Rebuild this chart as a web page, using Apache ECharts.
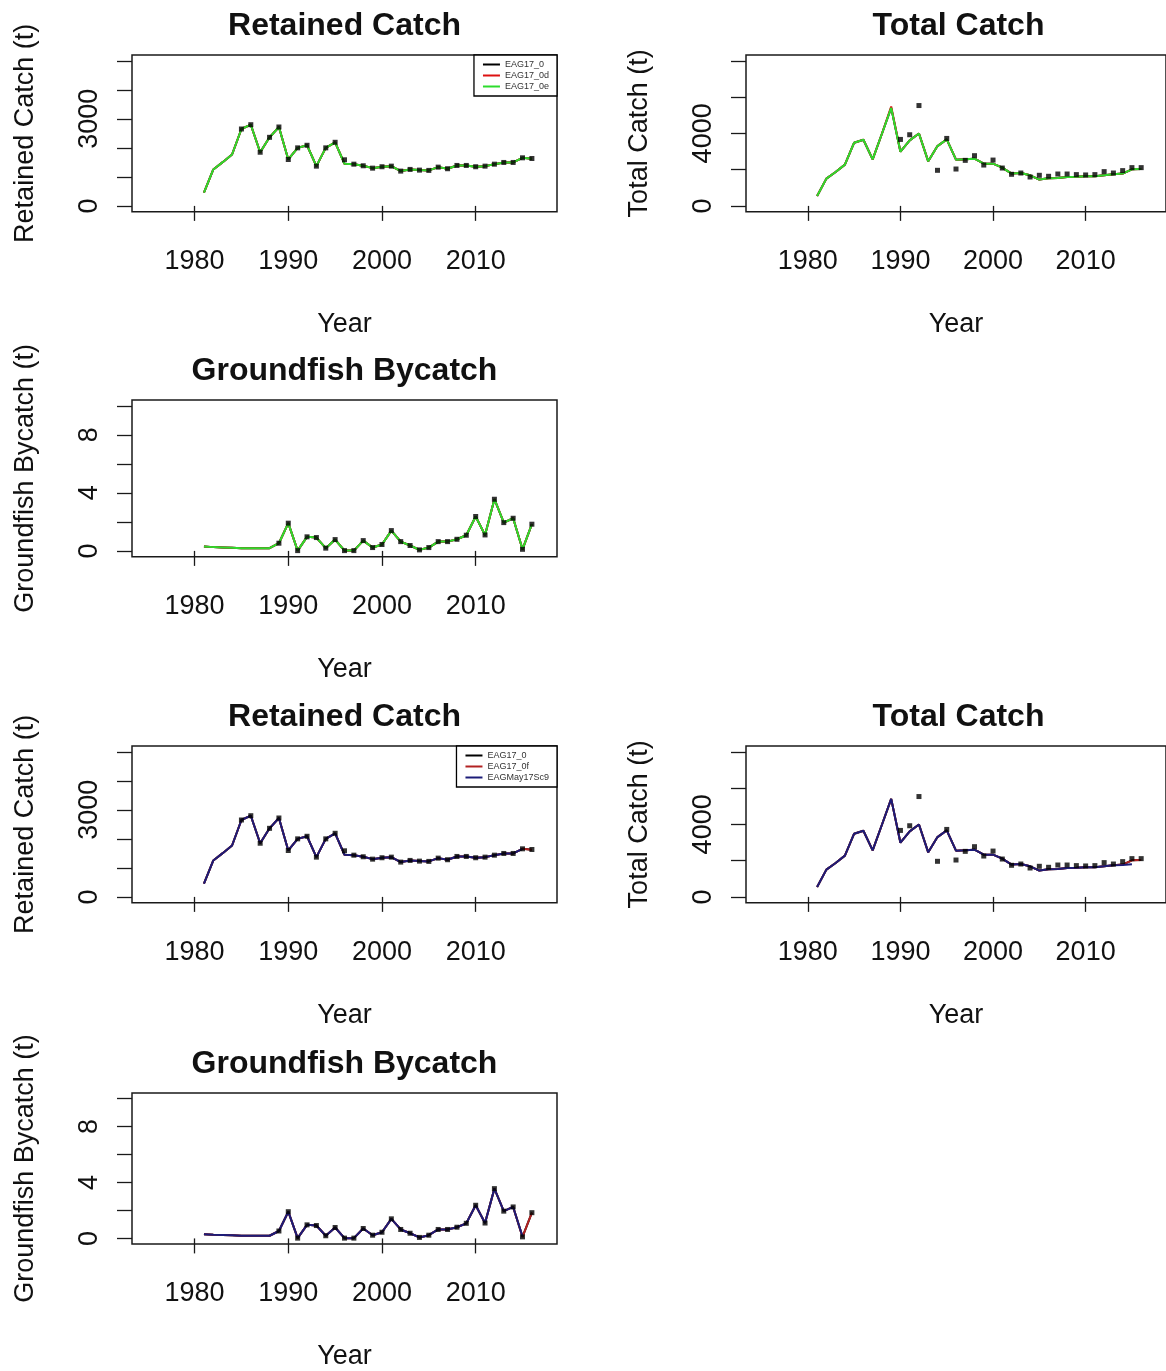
<!DOCTYPE html>
<html>
<head>
<meta charset="utf-8">
<script src="https://cdn.jsdelivr.net/npm/echarts@6/dist/echarts.min.js"></script>
<style>
html,body{margin:0;padding:0;background:#ffffff;}
#chart{width:1166px;height:1371px;}
</style>
</head>
<body>
<div id="chart"></div>
<script>
// ---------------- DATA ----------------
const years = [1981,1982,1983,1984,1985,1986,1987,1988,1989,1990,1991,1992,1993,1994,1995,1996,1997,1998,
               1999,2000,2001,2002,2003,2004,2005,2006,2007,2008,2009,2010,2011,2012,2013,2014,2015,2016];

// model fits (t)
const retainedFit = [459,1257,1507,1771,2650,2798,1849,2363,2719,1599,2000,2089,1370,2000,2192,1452,1438,1383,
                     1301,1349,1370,1199,1257,1233,1223,1336,1281,1394,1394,1349,1370,1438,1497,1497,1657,1623];
const retainedObs = [null,null,null,null,2650,2798,1849,2363,2719,1599,2000,2089,1370,2000,2192,1589,1438,1383,
                     1301,1349,1370,1199,1257,1233,1223,1336,1281,1394,1394,1349,1370,1438,1497,1497,1657,1634];
const retainedSc9 = [459,1257,1507,1771,2650,2798,1849,2363,2719,1599,2000,2089,1370,2000,2192,1452,1438,1383,
                     1301,1349,1370,1199,1257,1233,1223,1336,1281,1394,1394,1349,1370,1438,1497,1497,1657];

const totalFit = [549,1505,1868,2275,3484,3648,2566,3978,5407,2989,3610,3995,2456,3297,3665,2549,2566,2604,
                  2330,2330,2110,1780,1813,1687,1451,1522,1540,1593,1612,1632,1632,1687,1742,1780,2016,2033];
const totalFit0d = [549,1505,1868,2275,3484,3648,2566,3978,5480,2989,3610,3995,2456,3297,3665,2549,2566,2604,
                  2330,2330,2110,1780,1813,1687,1451,1522,1540,1593,1612,1632,1632,1687,1742,1780,2016,2033];
const totalObs = [null,null,null,null,null,null,null,null,null,3665,3923,5533,null,1962,3720,2033,2511,2769,
                  2253,2527,2088,1742,1813,1593,1687,1632,1758,1758,1725,1706,1725,1890,1813,1945,2110,2110];
const totalSc9 = [549,1505,1868,2275,3484,3648,2566,3978,5407,2989,3610,3995,2456,3297,3665,2549,2566,2604,
                  2330,2330,2110,1780,1813,1687,1451,1522,1540,1593,1612,1632,1632,1687,1742,1760,1800];

const bycatchFit = [0.30,0.26,0.24,0.22,0.19,0.19,0.19,0.19,0.53,1.91,0.02,0.97,0.92,0.19,0.78,0.02,0.02,0.71,
                    0.23,0.44,1.40,0.64,0.37,0.07,0.23,0.64,0.64,0.80,1.08,2.37,1.10,3.56,1.95,2.25,0.11,1.84];
const bycatchObs = [null,null,null,null,null,null,null,null,0.53,1.91,0.02,0.97,0.92,0.19,0.78,0.02,0.02,0.71,
                    0.23,0.44,1.40,0.64,0.37,0.07,0.23,0.64,0.64,0.80,1.08,2.37,1.10,3.56,1.95,2.25,0.11,1.84];
const bycatchSc9 = [0.30,0.26,0.24,0.22,0.19,0.19,0.19,0.19,0.53,1.91,0.02,0.97,0.92,0.19,0.78,0.02,0.02,0.71,
                    0.23,0.44,1.40,0.64,0.37,0.07,0.23,0.64,0.64,0.80,1.08,2.37,1.10,3.56,1.95,2.25,0.14];

// axes
const xLim = [1975, 2017];
const xTicks = [1980, 1990, 2000, 2010];
const retainedLim = [0, 5000];
const retainedTicks = [0, 1000, 2000, 3000, 4000, 5000];
const retainedLabels = [0, 3000];
const totalLim = [0, 8000];
const totalTicks = [0, 2000, 4000, 6000, 8000];
const totalLabels = [0, 4000];
const bycatchLim = [0, 10];
const bycatchTicks = [0, 2, 4, 6, 8, 10];
const bycatchLabels = [0, 4, 8];

const legendA = ['EAG17_0', 'EAG17_0d', 'EAG17_0e'];
const legendB = ['EAG17_0', 'EAG17_0f', 'EAGMay17Sc9'];

// ---------------- STYLE / LAYOUT ----------------
const FONT = '"Liberation Sans", Arial, Helvetica, sans-serif';
const COLORS = {
  'EAG17_0': '#000000',
  'EAG17_0d': '#dd1111',
  'EAG17_0e': '#2ddc2d',
  'EAG17_0f': '#b22222',
  'EAGMay17Sc9': '#1c1c78'
};
const BOX_W = 425, BOX_H = 156.7;
const COL_LEFT = [132, 746];
const ROW_TOP = [55, 400, 746, 1093];
const LABEL_SIZE = 27, TITLE_SIZE = 32;

function pairs(vals) {
  const out = [];
  vals.forEach((v, i) => { if (v !== null && v !== undefined) out.push([years[i], v]); });
  return out;
}
function padLim(lim) {
  const r = lim[1] - lim[0];
  return [lim[0] - 0.04 * r, lim[1] + 0.04 * r];
}
const plain = v => String(v);

const panels = [
  { title: 'Retained Catch', yName: 'Retained Catch (t)', col: 0, row: 0, lim: retainedLim, ticks: retainedTicks, labels: retainedLabels,
    lines: [['EAG17_0', retainedFit], ['EAG17_0d', retainedFit], ['EAG17_0e', retainedFit]], obs: retainedObs },
  { title: 'Total Catch', yName: 'Total Catch (t)', col: 1, row: 0, lim: totalLim, ticks: totalTicks, labels: totalLabels,
    lines: [['EAG17_0', totalFit], ['EAG17_0d', totalFit0d], ['EAG17_0e', totalFit]], obs: totalObs },
  { title: 'Groundfish Bycatch', yName: 'Groundfish Bycatch (t)', col: 0, row: 1, lim: bycatchLim, ticks: bycatchTicks, labels: bycatchLabels,
    lines: [['EAG17_0', bycatchFit], ['EAG17_0d', bycatchFit], ['EAG17_0e', bycatchFit]], obs: bycatchObs },
  { title: 'Retained Catch', yName: 'Retained Catch (t)', col: 0, row: 2, lim: retainedLim, ticks: retainedTicks, labels: retainedLabels,
    lines: [['EAG17_0', retainedFit], ['EAG17_0f', retainedFit], ['EAGMay17Sc9', retainedSc9]], obs: retainedObs },
  { title: 'Total Catch', yName: 'Total Catch (t)', col: 1, row: 2, lim: totalLim, ticks: totalTicks, labels: totalLabels,
    lines: [['EAG17_0', totalFit], ['EAG17_0f', totalFit], ['EAGMay17Sc9', totalSc9]], obs: totalObs },
  { title: 'Groundfish Bycatch', yName: 'Groundfish Bycatch (t)', col: 0, row: 3, lim: bycatchLim, ticks: bycatchTicks, labels: bycatchLabels,
    lines: [['EAG17_0', bycatchFit], ['EAG17_0f', bycatchFit], ['EAGMay17Sc9', bycatchSc9]], obs: bycatchObs }
];

const grid = [], xAxis = [], yAxis = [], series = [], graphic = [];
const xR = padLim(xLim);

panels.forEach((p, i) => {
  const left = COL_LEFT[p.col], top = ROW_TOP[p.row];
  grid.push({ left: left, top: top, width: BOX_W, height: BOX_H, show: true,
              borderColor: '#1a1a1a', borderWidth: 1.5, backgroundColor: 'transparent', containLabel: false });
  const yR = padLim(p.lim);
  xAxis.push({
    type: 'value', gridIndex: i, min: xR[0], max: xR[1],
    axisLine: { show: false },
    splitLine: { show: false },
    axisTick: { show: true, length: 15, inside: false, customValues: xTicks, lineStyle: { color: '#1a1a1a', width: 1.3 } },
    axisLabel: { show: true, customValues: xTicks, formatter: plain, margin: 36, fontSize: LABEL_SIZE, color: '#111', fontFamily: FONT },
    name: 'Year', nameLocation: 'middle', nameGap: 99,
    nameTextStyle: { fontSize: LABEL_SIZE, color: '#111', fontFamily: FONT }
  });
  yAxis.push({
    type: 'value', gridIndex: i, min: yR[0], max: yR[1],
    axisLine: { show: false },
    splitLine: { show: false },
    axisTick: { show: true, length: 15, inside: false, customValues: p.ticks, lineStyle: { color: '#1a1a1a', width: 1.3 } },
    axisLabel: { show: true, customValues: p.labels, formatter: plain, rotate: 90, margin: 29, fontSize: LABEL_SIZE, color: '#111', fontFamily: FONT },
    name: p.yName, nameLocation: 'middle', nameGap: 93,
    nameTextStyle: { fontSize: LABEL_SIZE, color: '#111', fontFamily: FONT }
  });
  p.lines.forEach(([name, vals], k) => {
    series.push({
      type: 'line', name: name, xAxisIndex: i, yAxisIndex: i,
      data: pairs(vals), showSymbol: false, symbol: 'none', smooth: false,
      lineStyle: { width: 2, color: COLORS[name] }, itemStyle: { color: COLORS[name] },
      z: 2 + k, animation: false, silent: true
    });
  });
  series.push({
    type: 'scatter', name: 'observed', xAxisIndex: i, yAxisIndex: i,
    data: pairs(p.obs), symbol: 'rect', symbolSize: 5,
    itemStyle: { color: '#000' }, z: 10, animation: false, silent: true
  });
  graphic.push({
    type: 'text', x: left + BOX_W / 2, y: top - 29,
    style: { text: p.title, align: 'center', verticalAlign: 'middle',
             font: 'bold ' + TITLE_SIZE + 'px ' + FONT, fill: '#111' }
  });
});

function legendCfg(names, top) {
  return {
    data: names, orient: 'vertical', right: 1166 - (COL_LEFT[0] + BOX_W), top: top,
    icon: 'rect', itemWidth: 17, itemHeight: 2, itemGap: 2,
    padding: [5, 8, 5, 9], borderColor: '#000', borderWidth: 1.3, backgroundColor: '#fff',
    textStyle: { fontSize: 9, color: '#333', fontFamily: FONT, lineHeight: 9 },
    selectedMode: false
  };
}

const chart = echarts.init(document.getElementById('chart'), null, { renderer: 'canvas' });
chart.setOption({
  backgroundColor: '#ffffff',
  animation: false,
  grid: grid,
  xAxis: xAxis,
  yAxis: yAxis,
  series: series,
  graphic: graphic,
  legend: [legendCfg(legendA, ROW_TOP[0]), legendCfg(legendB, ROW_TOP[2])]
});
</script>
</body>
</html>
